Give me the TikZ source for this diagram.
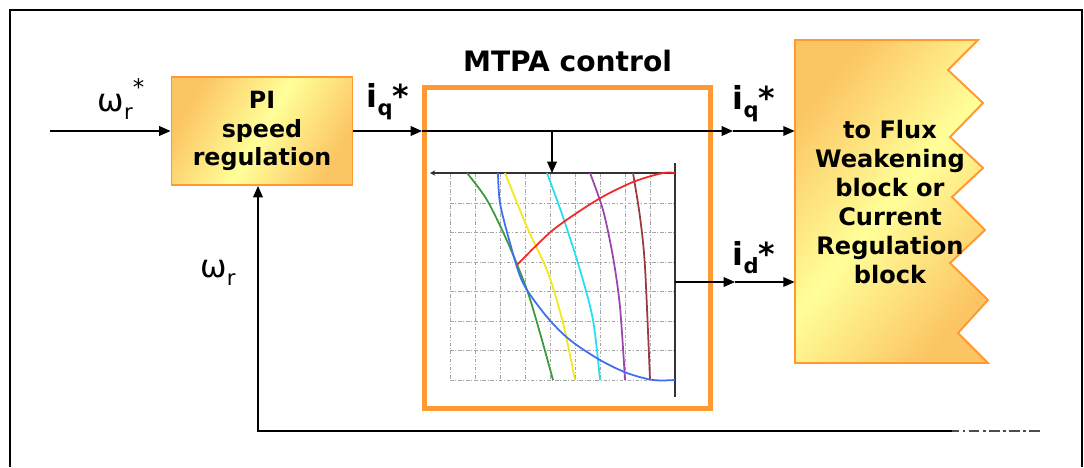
\documentclass[tikz,border=0pt]{standalone}
\usepackage{fontspec}
\setmainfont{DejaVu Sans}
\usetikzlibrary{positioning,arrows.meta}
\definecolor{boxorange}{HTML}{FF9933}
\definecolor{shadeorange}{HTML}{FCC563}
\definecolor{shadeyellow}{HTML}{FFFF99}
\definecolor{curvegreen}{HTML}{3A9A3A}
\definecolor{curveblue}{HTML}{3F6FF0}
\definecolor{curveyellow}{HTML}{F2E81A}
\definecolor{curvecyan}{HTML}{22E0F0}
\definecolor{curvepurple}{HTML}{9B44B0}
\definecolor{curvebrown}{HTML}{9A3A3A}
\definecolor{curvered}{HTML}{F02828}
\tikzset{
    shaded-box/.style = {draw=boxorange, line width=1.1pt, left color=shadeorange, right color=shadeorange, middle color=shadeyellow, shading angle=60},
    mtpa-box/.style = {draw=boxorange, line width=2.8pt, fill=white, rectangle},
    box-text/.style = {align=center, font=\fontsize{13.5}{16.2}\selectfont\bfseries},
    signal/.style = {line width=0.85pt, -{Triangle[length=6.5pt, width=5.5pt]}},
    signal-label/.style = {font=\fontsize{18}{20}\selectfont},
    chart-grid/.style = {gray!70, line width=0.5pt, dash pattern=on 2pt off 1pt on 0.6pt off 1pt},
    chart-axis/.style = {black!80, line width=0.6pt},
    chart-curve/.style = {line width=1pt},
}
\newcommand{\lowsub}[1]{\raisebox{-0.45ex}{\fontsize{12}{12}\selectfont #1}}
\begin{document}
\begin{tikzpicture}[x=0.02cm, y=-0.02cm]
\useasboundingbox (0,0) rectangle (1084,467);
\draw[line width=1.2pt] (10,467) -- (10,10) -- (1082,10) -- (1082,467);

\node[shaded-box, box-text, minimum width=3.62cm, minimum height=2.16cm] (pi) at (262,131) {PI\\speed\\regulation};

\node[mtpa-box, minimum width=5.72cm, minimum height=6.42cm] (mtpa) at (567.5,248) {};
\node[font=\fontsize{16}{18}\selectfont\bfseries, above=4pt of mtpa] (mtpatitle) {MTPA control};

\path[shaded-box, shading angle=50] (795,40) -- (978,40) -- (948,70) -- (983,103) -- (950,137) -- (983,168)
    -- (952,197) -- (985,230) -- (950,263) -- (988,300) -- (958,333) -- (988,363) -- (795,363) -- cycle;
\node[box-text, font=\fontsize{13.7}{16.4}\selectfont\bfseries, minimum width=3.8cm, minimum height=6.46cm] (flux) at (890,202) {to Flux\\Weakening\\block or\\Current\\Regulation\\block};

\foreach \gx in {450,475,...,650}
    \draw[chart-grid] (\gx,173) -- (\gx,380);
\foreach \gy in {203,232,262,291,321,350,380}
    \draw[chart-grid] (450,\gy) -- (675,\gy);
\draw[chart-axis, -{Stealth[length=3pt, width=3pt]}] (675,173) -- (430,173);
\draw[chart-axis] (675,163) -- (675,397);

\draw[chart-curve, curvegreen] plot[smooth] coordinates {(467,173) (487,200) (508,243) (527,290) (540,333) (553,380)};
\draw[chart-curve, curveyellow] plot[smooth] coordinates {(505,173) (527,227) (548,273) (563,323) (575,380)};
\draw[chart-curve, curvecyan] plot[smooth] coordinates {(547,173) (563,217) (580,270) (593,320) (600,380)};
\draw[chart-curve, curvepurple] plot[smooth] coordinates {(590,173) (603,210) (613,257) (620,307) (625,380)};
\draw[chart-curve, curvebrown] plot[smooth] coordinates {(633,173) (640,217) (645,267) (650,380)};
\draw[chart-curve, curveblue] plot[smooth] coordinates {(498,173) (500,203) (510,243) (523,283) (547,317) (570,340) (600,360) (627,373) (653,380) (675,380)};
\draw[chart-curve, curvered] plot[smooth] coordinates {(517,265) (553,230) (597,200) (633,182) (663,173) (675,173)};

\coordinate (refin) at (50,131);
\draw[signal] (refin) -- (pi.west);
\coordinate (iqentry) at (mtpa.west |- pi.east);
\draw[signal] (pi.east) -- (iqentry);
\coordinate (iqmid) at (733,131);
\draw[signal] (iqentry) -- (iqmid);
\draw[signal] (iqmid) -- (iqmid -| flux.west);
\coordinate (branch) at (552,131);
\coordinate (charttop) at (552,173);
\draw[signal] (branch) -- (charttop);
\coordinate (chartout) at (675,282);
\coordinate (idmid) at (735,282);
\draw[signal] (chartout) -- (idmid);
\draw[signal] (idmid) -- (idmid -| flux.west);

\coordinate (fbstart) at (1040,431);
\coordinate (fbfade) at (952,431);
\coordinate (fbcorner) at (258,431);
\draw[line width=0.85pt, black!70, dash pattern=on 6pt off 2pt on 1.5pt off 2pt] (fbstart) -- (fbfade);
\draw[signal] (fbfade) -- (fbcorner) -- (fbcorner |- pi.south);

\node[signal-label] (wref) at (121,99) {ω\lowsub{r}\raisebox{0.9ex}{\fontsize{13}{13}\selectfont *}};
\node[signal-label, font=\fontsize{18}{20}\selectfont\bfseries] (iqpi) at (388,102) {i\lowsub{q}*};
\node[signal-label, font=\fontsize{18}{20}\selectfont\bfseries] (iqout) at (754,104) {i\lowsub{q}*};
\node[signal-label, font=\fontsize{18}{20}\selectfont\bfseries] (idout) at (754,258) {i\lowsub{d}*};
\node[signal-label] (wfb) at (218,273) {ω\lowsub{r}};
\end{tikzpicture}
\end{document}
